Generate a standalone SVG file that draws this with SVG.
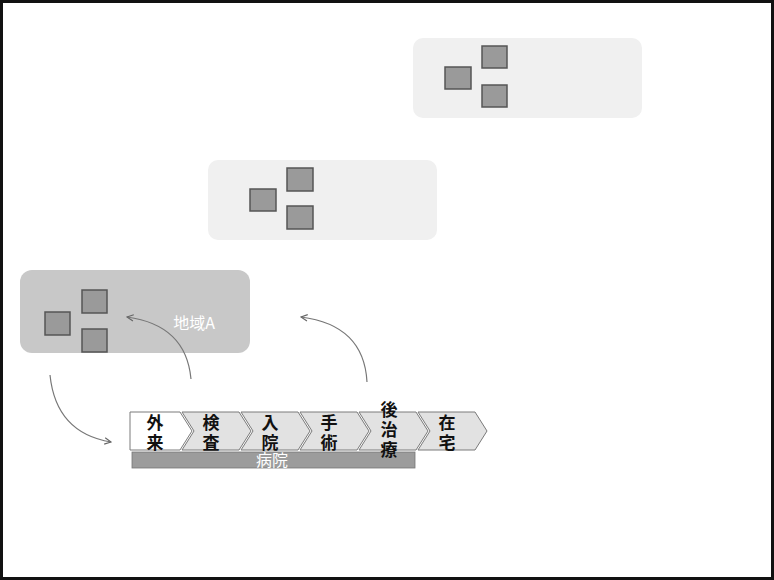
<svg xmlns="http://www.w3.org/2000/svg" width="774" height="580" viewBox="0 0 774 580">
<style>
.sq{fill:#9a9a9a;stroke:#555;stroke-width:1.5}
.chev{fill:#e2e2e2;stroke:#7a7a7a;stroke-width:1}
.ct{font-family:"Noto Sans CJK JP","Noto Sans CJK SC",sans-serif;font-size:17px;font-weight:bold;fill:#111;text-anchor:middle;writing-mode:vertical-rl;letter-spacing:3px}
.wt{font-family:"Noto Sans CJK JP","Noto Sans CJK SC",sans-serif;fill:#fff;text-anchor:middle}
.conn{fill:none;stroke:#777;stroke-width:1.2;marker-end:url(#arr)}
</style>
<defs>
<marker id="arr" viewBox="0 0 10 10" refX="9" refY="5" markerWidth="8" markerHeight="8" orient="auto" markerUnits="userSpaceOnUse">
<path d="M1,1 L9,5 L1,9" fill="none" stroke="#666" stroke-width="1.4"/>
</marker>
</defs>
<rect x="0" y="0" width="774" height="580" fill="#fff"/>
<rect x="1.5" y="1.5" width="771" height="577" fill="none" stroke="#111" stroke-width="3"/>

<g id="region-top">
<rect x="413" y="38" width="229" height="80" rx="10" fill="#f0f0f0"/>
<rect class="sq" x="445" y="67" width="26" height="22"/>
<rect class="sq" x="482" y="46" width="25" height="22"/>
<rect class="sq" x="482" y="85" width="25" height="22"/>
</g>

<g id="region-middle">
<rect x="208" y="160" width="229" height="80" rx="10" fill="#f0f0f0"/>
<rect class="sq" x="250" y="189" width="26" height="22"/>
<rect class="sq" x="287" y="168" width="26" height="23"/>
<rect class="sq" x="287" y="206" width="26" height="23"/>
</g>

<g id="region-a">
<rect x="20" y="270" width="230" height="83" rx="12" fill="#c8c8c8"/>
<rect class="sq" x="45" y="312" width="25" height="23"/>
<rect class="sq" x="82" y="290" width="25" height="23"/>
<rect class="sq" x="82" y="329" width="25" height="23"/>
<text class="wt" x="194" y="329" font-size="16">地域A</text>
</g>

<g id="hospital">
<rect x="132" y="452" width="283" height="16" fill="#9c9c9c" stroke="#777" stroke-width="0.8"/>
<text class="wt" x="272" y="466" font-size="16">病院</text>
</g>

<g id="step-1">
<path d="M130,412 L180,412 L192,431 L180,450 L130,450 Z" fill="#fff" stroke="#7a7a7a" stroke-width="1"/>
<text class="ct" x="155" y="434.5">外来</text>
</g>
<g id="step-2">
<path class="chev" d="M182,412 L239,412 L251,431 L239,450 L182,450 L194,431 Z"/>
<text class="ct" x="211" y="434.5">検査</text>
</g>
<g id="step-3">
<path class="chev" d="M241,412 L298,412 L310,431 L298,450 L241,450 L253,431 Z"/>
<text class="ct" x="270" y="434.5">入院</text>
</g>
<g id="step-4">
<path class="chev" d="M300,412 L357,412 L369,431 L357,450 L300,450 L312,431 Z"/>
<text class="ct" x="329" y="434.5">手術</text>
</g>
<g id="step-5">
<path class="chev" d="M359,412 L416,412 L428,431 L416,450 L359,450 L371,431 Z"/>
<text class="ct" x="389" y="431.5">後治療</text>
</g>
<g id="step-6">
<path class="chev" d="M418,412 L475,412 L487,431 L475,450 L418,450 L430,431 Z"/>
<text class="ct" x="447" y="434.5">在宅</text>
</g>

<g id="connectors">
<path class="conn" d="M50,375 Q56,433 111,442"/>
<path class="conn" d="M191,379 Q186,325 127,317"/>
<path class="conn" d="M367,382 Q364,325 301,317"/>
</g>
</svg>
